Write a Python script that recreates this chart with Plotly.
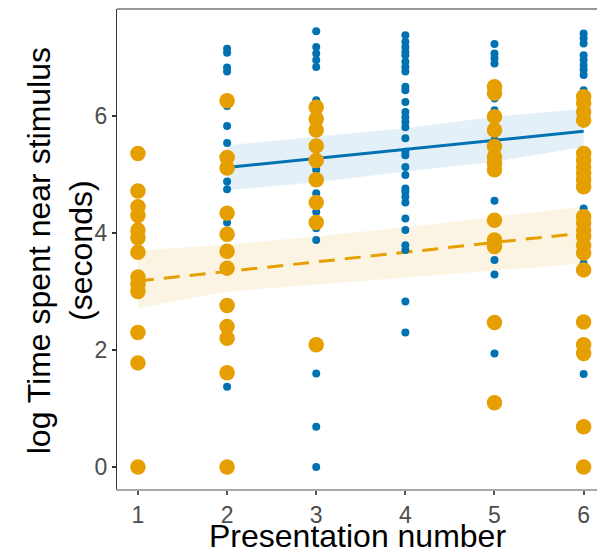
import plotly.graph_objects as go

# ---- data ----
blue_x = [2]*11 + [3]*15 + [4]*30 + [5]*12 + [6]*12
blue_y = [7.15, 7.08, 6.83, 6.76, 6.17, 5.83, 5.54, 4.88, 4.75, 4.18, 1.37,
          7.45, 7.18, 7.07, 6.96, 6.84, 6.27, 5.08, 4.68, 4.51, 4.36, 4.08, 3.88, 1.60, 0.69, 0.0,
          7.38, 7.27, 7.18, 7.10, 7.04, 6.93, 6.84, 6.76, 6.50, 6.44, 6.24, 6.07, 5.98, 5.90, 5.81,
          5.62, 5.39, 5.33, 5.13, 4.99, 4.76, 4.71, 4.62, 4.52, 4.25, 4.05, 3.79, 3.71, 2.83, 2.30,
          7.23, 7.07, 6.99, 6.90, 6.30, 6.10, 5.59, 4.55, 3.71, 3.54, 3.29, 1.94,
          7.41, 7.33, 7.24, 7.04, 6.96, 6.87, 6.79, 6.70, 6.44, 4.42, 3.48, 1.59]

orange_x = [1]*13 + [2]*12 + [3]*9 + [5]*13 + [6]*22
orange_y = ([5.36, 4.72, 4.45, 4.30, 4.05, 3.92, 3.67, 3.25, 3.12, 3.00, 2.30, 1.78, 0.0] +
            [6.26, 5.29, 5.11, 4.34, 3.98, 3.69, 3.40, 2.76, 2.40, 2.20, 1.61, 0.0] +
            [6.15, 5.95, 5.76, 5.49, 5.24, 4.91, 4.52, 4.18, 2.09] +
            [6.50, 6.39, 5.99, 5.76, 5.48, 5.30, 5.19, 5.08, 4.22, 3.88, 3.77, 2.47, 1.10] +
            [6.33, 6.22, 6.07, 5.93, 5.36, 5.25, 5.13, 5.02, 4.91, 4.79, 4.28, 4.17, 4.05, 3.94,
             3.79, 3.66, 3.37, 2.48, 2.09, 1.94, 0.69, 0.0])

# fitted lines and confidence bands
blue_fit_x = [2, 3, 4, 5, 6]
blue_fit = [5.12, 5.275, 5.43, 5.585, 5.74]
blue_lo = [4.73, 4.87, 5.05, 5.22, 5.47]
blue_hi = [5.50, 5.65, 5.79, 5.99, 6.12]

orange_fit_x = [1, 2, 3, 4, 5, 6]
orange_fit = [3.18, 3.34, 3.51, 3.67, 3.84, 4.00]
orange_lo = [2.72, 3.00, 3.12, 3.24, 3.36, 3.48]
orange_hi = [3.70, 3.80, 3.94, 4.10, 4.28, 4.45]

x_ticks = [1, 2, 3, 4, 5, 6]
y_ticks = [0, 2, 4, 6]

BLUE = "#0072B2"
ORANGE = "#E69F00"
FONT = "Liberation Sans, Arial, sans-serif"

fig = go.Figure()

# bands
fig.add_trace(go.Scatter(x=blue_fit_x + blue_fit_x[::-1], y=blue_hi + blue_lo[::-1],
                         fill="toself", fillcolor="rgba(0,114,178,0.11)", line=dict(width=0),
                         mode="lines", hoverinfo="skip", showlegend=False))
fig.add_trace(go.Scatter(x=orange_fit_x + orange_fit_x[::-1], y=orange_hi + orange_lo[::-1],
                         fill="toself", fillcolor="rgba(230,159,0,0.11)", line=dict(width=0),
                         mode="lines", hoverinfo="skip", showlegend=False))
# lines
fig.add_trace(go.Scatter(x=blue_fit_x, y=blue_fit, mode="lines",
                         line=dict(color=BLUE, width=3), showlegend=False))
fig.add_trace(go.Scatter(x=orange_fit_x, y=orange_fit, mode="lines",
                         line=dict(color=ORANGE, width=3, dash="16px,10px"), showlegend=False))
# points
fig.add_trace(go.Scatter(x=blue_x, y=blue_y, mode="markers",
                         marker=dict(color=BLUE, size=8, line=dict(width=0)), showlegend=False))
fig.add_trace(go.Scatter(x=orange_x, y=orange_y, mode="markers",
                         marker=dict(color=ORANGE, size=15.5, line=dict(width=0)), showlegend=False))

fig.update_layout(
    width=597, height=554,
    margin=dict(l=117, r=0, t=9, b=65),
    plot_bgcolor="white", paper_bgcolor="white",
    font=dict(family=FONT),
    xaxis=dict(range=[0.765, 6.15], tickvals=x_ticks, ticktext=[str(v) for v in x_ticks],
               showgrid=False, zeroline=False, showline=True, linecolor="#a8a8a8", linewidth=2,
               ticks="outside", ticklen=4, tickwidth=1.5, tickcolor="#555555",
               tickfont=dict(size=23, color="#4d4d4d", family=FONT)),
    yaxis=dict(range=[-0.376, 7.83], tickvals=y_ticks, ticktext=[str(v) for v in y_ticks],
               showgrid=False, zeroline=False, showline=True, linecolor="#333333", linewidth=1.2,
               ticks="outside", ticklen=4, tickwidth=1.5, tickcolor="#333333",
               tickfont=dict(size=23, color="#4d4d4d", family=FONT)),
    shapes=[dict(type="line", xref="paper", yref="paper", x0=0, x1=1, y0=1, y1=1,
                 line=dict(color="#333333", width=1.2))],
    annotations=[
        dict(text="log Time spent near stimulus<br>(seconds)", xref="paper", yref="paper",
             x=-0.118, y=0.496, xanchor="center", yanchor="middle", textangle=-90,
             showarrow=False, font=dict(size=32, color="black", family=FONT)),
        dict(text="Presentation number", xref="paper", yref="paper",
             x=0.502, y=-0.098, xanchor="center", yanchor="middle",
             showarrow=False, font=dict(size=32, color="black", family=FONT)),
    ],
)

fig.write_html("out.html")
